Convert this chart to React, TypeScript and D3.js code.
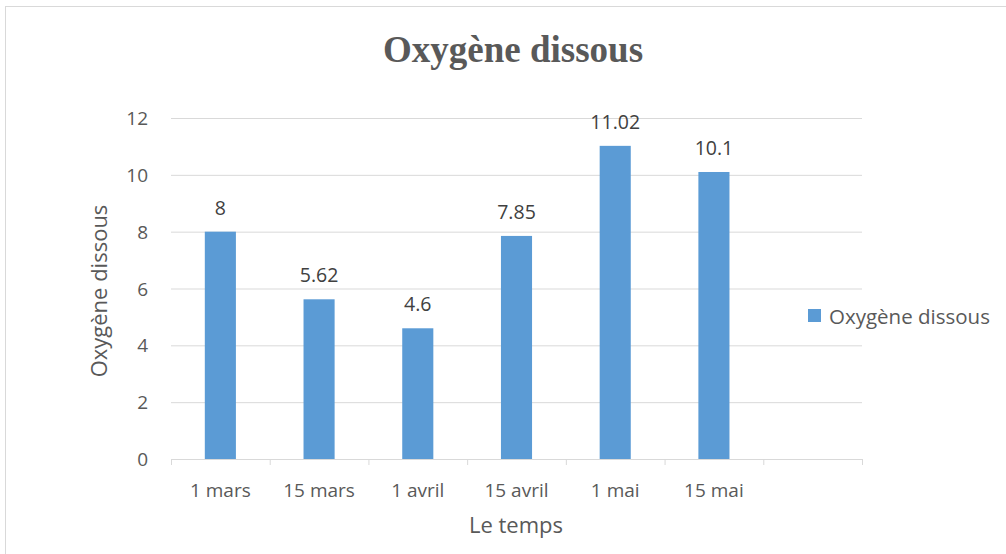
import React from "react";
import * as d3 from "d3";

const categories = ["1 mars", "15 mars", "1 avril", "15 avril", "1 mai", "15 mai", ""];
const values: (number | null)[] = [8, 5.62, 4.6, 7.85, 11.02, 10.1, null];
const labels = ["8", "5.62", "4.6", "7.85", "11.02", "10.1", ""];
const yTicks = [0, 2, 4, 6, 8, 10, 12];
const seriesName = "Oxygène dissous";

const W = 1006, H = 554;
const left = 171, right = 862, top = 118, bottom = 459;
const font = "'Open Sans', 'Noto Sans', sans-serif";

export default function App() {
  const keys = categories.map((c, i) => String(i));
  const x = d3.scaleBand<string>().domain(keys).range([left, right]).paddingInner(0.685).paddingOuter(0.3425);
  const xb = d3.scaleBand<string>().domain(keys).range([left, right]);
  const y = d3.scaleLinear().domain([0, 12]).range([bottom, top]);
  return (
    <svg width={W} height={H} style={{ position: "absolute", left: 0, top: 0 }}>
      <rect x={0} y={0} width={W} height={H} fill="#fff" />
      <rect x={5.5} y={6.5} width={W + 10} height={H + 10} fill="none" stroke="#d9d9d9" />
      <text x={513} y={62} textAnchor="middle" fontFamily="'Liberation Serif', serif" fontWeight="bold" fontSize={37} fill="#595959">{seriesName}</text>
      {yTicks.map(t => (
        <g key={t}>
          {t > 0 && <line x1={left} x2={right} y1={y(t) + 0.5} y2={y(t) + 0.5} stroke="#d9d9d9" />}
          <text x={148} y={y(t) + 7} textAnchor="end" fontFamily={font} fontSize={19} fill="#595959">{t}</text>
        </g>
      ))}
      <line x1={left} x2={right} y1={bottom + 0.5} y2={bottom + 0.5} stroke="#d9d9d9" />
      {keys.map(k => (
        <line key={"t" + k} x1={xb(k)! + 0.5} x2={xb(k)! + 0.5} y1={bottom} y2={bottom + 6} stroke="#d9d9d9" />
      ))}
      <line x1={right + 0.5} x2={right + 0.5} y1={bottom} y2={bottom + 6} stroke="#d9d9d9" />
      {values.map((v, i) => v == null ? null : (
        <g key={"b" + i}>
          <rect x={x(String(i))} y={y(v)} width={x.bandwidth()} height={bottom - y(v)} fill="#5b9bd5" />
          <text x={x(String(i))! + x.bandwidth() / 2} y={y(v) - 17} textAnchor="middle" fontFamily={font} fontSize={19.5} fill="#404040">{labels[i]}</text>
        </g>
      ))}
      {categories.map((c, i) => (
        <text key={"c" + i} x={xb(String(i))! + xb.bandwidth() / 2} y={497} textAnchor="middle" fontFamily={font} fontSize={19} fill="#595959">{c}</text>
      ))}
      <text x={516} y={533} textAnchor="middle" fontFamily={font} fontSize={22} fill="#595959">Le temps</text>
      <text transform={`translate(107,291) rotate(-90)`} textAnchor="middle" fontFamily={font} fontSize={22} fill="#595959">{seriesName}</text>
      <rect x={808} y={309} width={13} height={13} fill="#5b9bd5" />
      <text x={829} y={324} fontFamily={font} fontSize={20.5} fill="#595959">{seriesName}</text>
    </svg>
  );
}
